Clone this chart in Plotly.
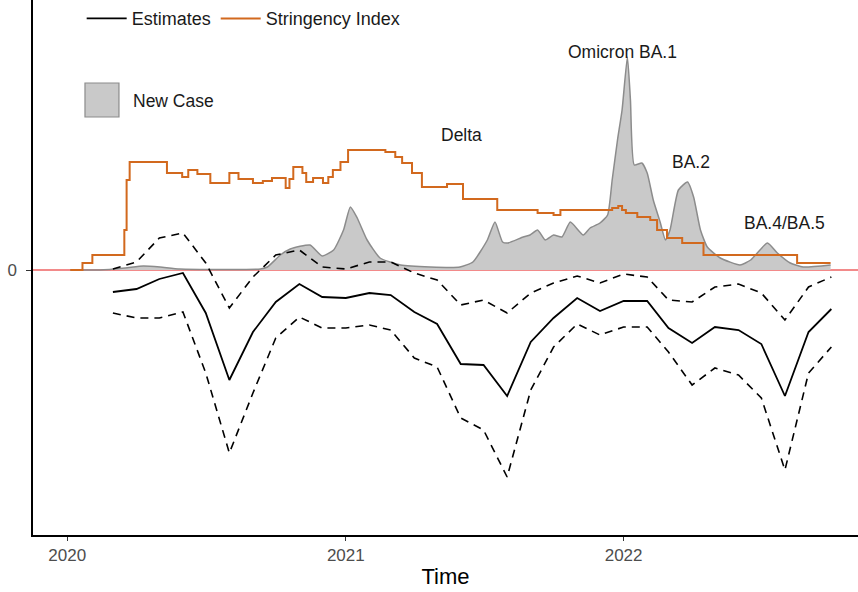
import plotly.graph_objects as go
import pandas as pd

# ---------------- data (arbitrary plot units, 0 = reference line) ----------------
est_dates = pd.date_range("2020-03-01", periods=32, freq="MS")
estimates = [-22, -19, -9, -3, -43, -110, -62, -32, -14, -27, -28, -23, -25, -42, -54, -94,
             -95, -126, -72, -48, -28, -41, -31, -31, -58, -73, -57, -60, -74, -126, -62, -39]
upper_ci = [1, 8, 32, 37, 7, -38, -7, 15, 20, 3, 1, 8, 8, -3, -10, -35,
            -30, -43, -23, -13, -6, -13, -4, -7, -30, -32, -17, -14, -23, -50, -17, -7]
lower_ci = [-43, -48, -48, -42, -103, -183, -123, -68, -47, -58, -58, -55, -60, -88, -97, -148,
            -160, -207, -120, -77, -54, -65, -57, -57, -82, -115, -98, -105, -128, -200, -103, -77]

str_dates = ["2020-01-05", "2020-01-21", "2020-02-03", "2020-03-16", "2020-03-19",
             "2020-03-23", "2020-05-11", "2020-05-31", "2020-06-08", "2020-06-20",
             "2020-07-07", "2020-08-01", "2020-08-13", "2020-09-01", "2020-09-14", "2020-09-26",
             "2020-10-14", "2020-10-19", "2020-10-24", "2020-11-05", "2020-11-10", "2020-11-19",
             "2020-12-02", "2020-12-09", "2020-12-15", "2020-12-25", "2021-01-04", "2021-02-22",
             "2021-03-07", "2021-03-16", "2021-03-29", "2021-04-11", "2021-05-14", "2021-06-04",
             "2021-07-19", "2021-09-10", "2021-10-01", "2021-10-10", "2021-12-17", "2021-12-25",
             "2021-12-30", "2022-01-04", "2022-01-19", "2022-02-05", "2022-02-14", "2022-02-27",
             "2022-03-19", "2022-04-16", "2022-08-17", "2022-09-30"]
stringency = [0, 7, 15, 40, 90, 108, 97, 93, 100, 96,
              87, 97, 91, 87, 89, 92, 82, 91, 103, 97, 88, 92,
              87, 93, 100, 108, 120, 118, 113, 107, 97, 83, 86, 71,
              60, 57, 55, 60, 62, 64, 60, 57, 53, 50, 40, 32,
              27, 15, 7, 7]

case_dates = ["2020-01-05", "2020-02-13", "2020-03-17", "2020-04-10", "2020-05-02", "2020-05-28",
              "2020-09-11", "2020-09-20", "2020-10-07", "2020-10-20", "2020-11-15", "2020-12-01",
              "2020-12-16", "2020-12-29", "2021-01-07", "2021-01-16", "2021-01-29", "2021-02-15",
              "2021-03-14", "2021-04-22", "2021-05-31", "2021-06-17", "2021-07-06", "2021-07-16",
              "2021-07-26", "2021-08-02", "2021-08-22", "2021-08-31", "2021-09-10", "2021-09-20",
              "2021-10-01", "2021-10-12", "2021-10-23", "2021-11-09", "2021-11-18", "2021-12-01",
              "2021-12-11", "2021-12-17", "2021-12-24", "2021-12-30", "2022-01-06", "2022-01-10",
              "2022-01-15", "2022-01-25", "2022-02-01", "2022-02-09", "2022-02-18", "2022-02-25",
              "2022-03-03", "2022-03-14", "2022-03-26", "2022-04-03", "2022-04-12", "2022-04-21",
              "2022-05-08", "2022-06-03", "2022-06-17", "2022-07-09", "2022-07-22", "2022-08-08",
              "2022-08-25", "2022-09-30"]
new_cases = [0, 0, 2, 4, 3, 1,
             1, 3, 15, 21, 25, 14,
             20, 40, 63, 52, 30, 12,
             5, 3, 3, 8, 30, 48,
             28, 27, 33, 35, 40, 30,
             35, 33, 48, 35, 42, 47,
             55, 90, 130, 160, 213, 170,
             105, 107, 97, 70, 48, 30,
             40, 80, 88, 73, 40, 23,
             12, 5, 10, 27, 17, 7,
             3, 5]

wave_labels = ["Delta", "Omicron BA.1", "BA.2", "BA.4/BA.5"]
wave_x = ["2021-06-02", "2021-12-30", "2022-03-31", "2022-07-31"]
wave_y = [135, 218, 108, 47]

year_ticks = ["2020-01-01", "2021-01-01", "2022-01-01"]
year_labels = ["2020", "2021", "2022"]

# ---------------- figure ----------------
FONT = "Liberation Sans, Arial, sans-serif"
fig = go.Figure()

fig.add_trace(go.Scatter(
    x=case_dates, y=new_cases, mode="lines", fill="tozeroy", line_shape="spline",
    fillcolor="#c9c9c9", line=dict(color="#8c8c8c", width=1.5, smoothing=0.5),
    name="New Case", showlegend=False))

fig.add_trace(go.Scatter(
    x=est_dates, y=estimates, mode="lines",
    line=dict(color="black", width=1.8), name="Estimates"))

fig.add_trace(go.Scatter(
    x=str_dates, y=stringency, mode="lines", line_shape="hv",
    line=dict(color="#d2691e", width=2), name="Stringency Index"))

fig.add_trace(go.Scatter(
    x=est_dates, y=upper_ci, mode="lines",
    line=dict(color="black", width=1.6, dash="8px,6px"), showlegend=False))
fig.add_trace(go.Scatter(
    x=est_dates, y=lower_ci, mode="lines",
    line=dict(color="black", width=1.6, dash="8px,6px"), showlegend=False))

for lab, xx, yy in zip(wave_labels, wave_x, wave_y):
    fig.add_annotation(x=xx, y=yy, text=lab, showarrow=False,
                       font=dict(size=17.5, color="#1a1a1a", family=FONT))

# "New Case" key
fig.add_shape(type="rect", xref="paper", yref="paper",
              x0=0.0630, x1=0.1042, y0=0.7813, y1=0.8449,
              fillcolor="#c9c9c9", line=dict(color="#8c8c8c", width=1.2))
fig.add_annotation(xref="paper", yref="paper", x=0.1188, y=0.8112,
                   xanchor="left", yanchor="middle", text="New Case", showarrow=False,
                   font=dict(size=17.5, color="#1a1a1a", family=FONT))

fig.update_layout(
    width=858, height=592,
    margin=dict(l=33, r=0, t=0, b=57),
    paper_bgcolor="white", plot_bgcolor="white",
    font=dict(family=FONT, color="#1a1a1a"),
    legend=dict(orientation="h", x=0.059, y=0.965, xanchor="left", yanchor="middle",
                font=dict(size=18, color="#1a1a1a", family=FONT),
                bgcolor="rgba(0,0,0,0)", itemwidth=40, traceorder="normal"),
    xaxis=dict(type="date", range=["2019-11-17", "2022-11-05"],
               tickvals=year_ticks, ticktext=year_labels,
               ticks="outside", ticklen=4, tickwidth=1.2, tickcolor="#333333",
               showline=True, linecolor="black", linewidth=1.5,
               showgrid=False, zeroline=False,
               tickfont=dict(size=17, color="#4d4d4d", family=FONT),
               title=dict(text="Time", font=dict(size=22, color="black", family=FONT), standoff=4),
               automargin=False),
    yaxis=dict(range=[-265, 270], tickvals=[0], ticktext=["0"],
               ticks="outside", ticklen=5, tickwidth=1.2, tickcolor="#333333",
               ticklabelstandoff=6,
               showline=True, linecolor="black", linewidth=1.5,
               showgrid=False, zeroline=True, zerolinecolor="#f28a8a", zerolinewidth=1.6,
               tickfont=dict(size=17, color="#4d4d4d", family=FONT),
               automargin=False),
)

fig.write_html("out.html")
